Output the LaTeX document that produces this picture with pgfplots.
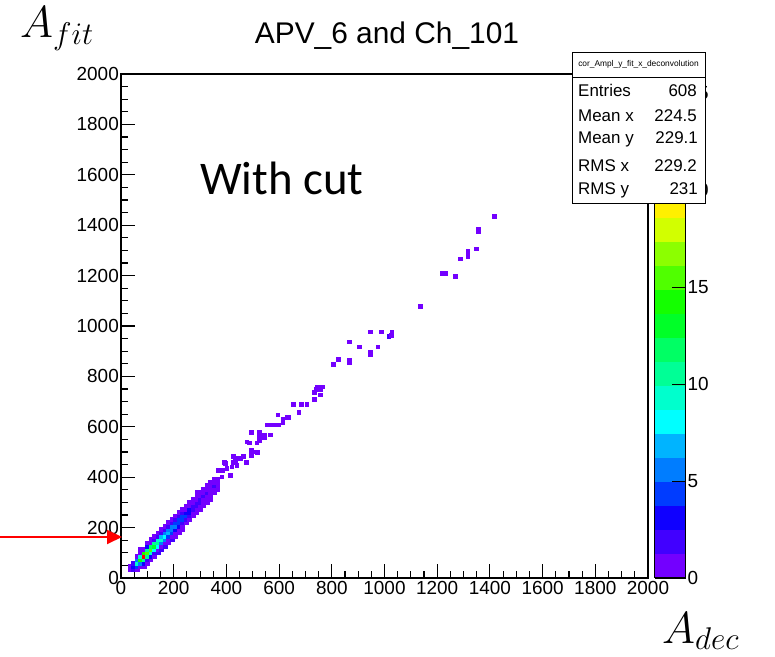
\RequirePackage{fix-cm}
\documentclass[border=0pt]{standalone}
\usepackage{fontspec}
\setmainfont{Liberation Sans}
\newfontfamily\calibri{Carlito}
\usepackage{pgfplots}
\pgfplotsset{compat=1.18}
\usepackage{pgfplotstable}
\usetikzlibrary{arrows.meta}
\pgfplotsset{/pgf/number format/assume math mode=true}

% x y count (bin contents)
\pgfplotstableread{
x y c
33 33 1
33 47 1
47 33 2
47 47 3
47 60 2
60 33 1
60 47 4
60 60 9
60 73 5
60 87 1
73 47 1
73 60 6
73 73 14
73 87 9
73 100 1
73 113 1
87 47 1
87 60 3
87 73 11
87 87 26
87 100 14
87 113 1
100 60 1
100 73 2
100 87 10
100 100 16
100 113 11
100 127 3
100 140 1
113 73 1
113 87 3
113 100 9
113 113 15
113 127 12
113 140 1
113 153 1
127 87 1
127 100 2
127 113 8
127 127 13
127 140 10
127 153 2
127 167 1
140 100 2
140 113 1
140 127 8
140 140 10
140 153 9
140 167 2
140 180 1
153 113 2
153 127 1
153 140 6
153 153 9
153 167 7
153 180 2
153 193 1
167 127 2
167 140 1
167 153 5
167 167 8
167 180 6
167 193 2
167 207 1
180 140 1
180 153 1
180 167 4
180 180 7
180 193 5
180 207 2
180 220 1
193 153 2
193 167 1
193 180 4
193 193 6
193 207 5
193 220 2
193 233 1
207 167 1
207 180 1
207 193 3
207 207 5
207 220 4
207 233 2
207 247 1
220 180 1
220 193 1
220 207 3
220 220 4
220 233 4
220 247 2
220 260 1
233 193 1
233 207 1
233 220 2
233 233 4
233 247 4
233 260 2
233 273 1
247 220 1
247 233 2
247 247 4
247 260 3
247 273 1
247 287 1
260 233 1
260 247 2
260 260 3
260 273 3
260 287 1
260 300 1
273 247 1
273 260 1
273 273 2
273 287 2
273 300 1
273 313 1
287 260 1
287 273 1
287 287 2
287 300 2
287 313 1
287 327 1
287 340 1
300 273 1
300 287 1
300 300 2
300 313 2
300 327 1
300 340 1
313 287 1
313 300 1
313 313 1
313 327 2
313 340 1
313 353 1
327 300 1
327 313 1
327 327 1
327 340 2
327 353 1
327 367 1
340 313 1
340 327 1
340 340 1
340 353 1
340 367 1
340 380 1
353 340 1
353 353 1
353 367 2
353 380 1
353 393 1
367 353 1
367 367 1
367 380 1
367 393 1
369 429 1
382 402 1
395 455 1
414 409 1
426 484 1
433 462 1
439 448 1
452 475 1
464 482 1
477 541 1
485 537 1
445 477 1
427 459 1
474 459 1
420 442 1
392 459 1
376 429 1
386 429 1
401 435 1
493 508 1
505 501 1
517 499 1
493 488 1
515 537 1
525 548 1
493 579 1
524 579 1
524 561 1
544 566 1
544 558 1
565 569 1
555 608 1
565 608 1
584 608 1
597 608 1
595 648 1
614 630 1
614 619 1
629 638 1
636 638 1
654 689 1
683 689 1
705 689 1
674 659 1
734 708 1
755 727 1
734 738 1
740 749 1
755 749 1
745 759 1
764 759 1
805 848 1
825 868 1
865 857 1
865 865 1
945 889 1
945 898 1
904 918 1
974 918 1
865 938 1
1016 958 2
1026 964 1
945 977 1
986 977 1
1027 977 1
1135 1078 1
1268 1197 1
1217 1208 1
1230 1208 1
1286 1267 1
1316 1278 1
1316 1297 1
1347 1307 1
1356 1374 1
1356 1384 1
1417 1436 1
}\bins

\begin{document}
\begin{tikzpicture}
\path[use as bounding box] (0bp,0bp) rectangle (775bp,657bp);
\begin{axis}[
  at={(121bp,79bp)}, anchor=south west,
  scale only axis, width=527bp, height=504bp,
  xmin=0, xmax=2000, ymin=0, ymax=2000,
  xtick={0,200,...,2000}, ytick={0,200,...,2000},
  minor tick num=3,
  tick align=inside, xtick pos=bottom, ytick pos=left,
  major tick length=14bp, minor tick length=7bp,
  axis line style={line width=1.3bp},
  every tick/.style={black, line width=1.1bp},
  tick label style={font=\fontsize{19}{22}\selectfont},
  yticklabel style={inner sep=2bp},
  xticklabel style={inner sep=3bp},
  /pgf/number format/set thousands separator={},
  scaled ticks=false,
  colormap={rootpal}{
    rgb255=(115,0,255) rgb255=(65,0,255) rgb255=(15,0,255) rgb255=(0,60,255)
    rgb255=(0,125,255) rgb255=(0,180,255) rgb255=(0,255,255) rgb255=(0,255,205)
    rgb255=(0,255,150) rgb255=(0,255,100) rgb255=(0,255,40) rgb255=(20,255,0)
    rgb255=(80,255,0) rgb255=(140,255,0) rgb255=(210,255,0) rgb255=(255,240,0)
    rgb255=(255,190,0) rgb255=(255,130,0) rgb255=(255,70,0) rgb255=(255,0,0)
    rgb255=(255,0,0)},
  colormap access=piecewise constant,
  point meta min=0, point meta max=26,
  colorbar,
  colorbar style={
    at={(parent axis.north east)}, anchor=north west, xshift=-2bp,
    scale only axis, width=31bp, height=504bp,
    ytick={0,5,10,15,20,25},
    ytick pos=right, yticklabel pos=right,
    tick align=inside, major tick length=14bp,
    every tick/.style={black, line width=1.1bp},
    axis line style={line width=1.3bp},
    yticklabel style={font=\fontsize{19}{22}\selectfont, inner sep=2bp},
  },
]
\addplot[scatter, only marks, mark=square*, mark size=1.9bp,
  point meta=explicit,
  scatter/use mapped color={draw=mapped color, fill=mapped color}]
  table[x=x, y=y, meta=c] {\bins};
\end{axis}

% title and labels
\node[anchor=base, font=\fontsize{30}{34}\selectfont] at (387bp,613bp) {APV\_6 and Ch\_101};
\node[anchor=base west, inner sep=0pt, font=\fontsize{45}{50}\selectfont] at (20bp,619bp) {$A_{fit}$};
\node[anchor=base west, inner sep=0pt, font=\fontsize{45}{50}\selectfont] at (662bp,14bp) {$A_{dec}$};
\node[anchor=base west, inner sep=0pt, font=\calibri\fontsize{47}{52}\selectfont] at (200bp,462bp) {With cut};

% arrow
\draw[red, line width=2bp, -{Triangle[length=15bp,width=14bp]}] (0bp,120bp) -- (122bp,120bp);

% stats box
\draw[fill=white, line width=1bp] (572.7bp,453.7bp) rectangle (705bp,604.7bp);
\draw[line width=1bp] (572.7bp,579.7bp) -- (705bp,579.7bp);
\node[anchor=base, inner sep=0pt, font=\fontsize{8.4}{10}\selectfont] at (638.5bp,590.3bp) {cor\_Ampl\_y\_fit\_x\_deconvolution};
\begin{scope}[every node/.style={inner sep=0pt, font=\fontsize{17}{20}\selectfont}]
\node[anchor=base west] at (578bp,560bp) {Entries};
\node[anchor=base east] at (697bp,560bp) {608};
\node[anchor=base west] at (578bp,535.3bp) {Mean x};
\node[anchor=base east] at (697bp,535.3bp) {224.5};
\node[anchor=base west] at (578bp,513bp) {Mean y};
\node[anchor=base east] at (698bp,513bp) {229.1};
\node[anchor=base west] at (578bp,485.3bp) {RMS x};
\node[anchor=base east] at (697bp,485.3bp) {229.2};
\node[anchor=base west] at (578bp,462bp) {RMS y};
\node[anchor=base east] at (698bp,462bp) {231};
\end{scope}
\end{tikzpicture}
\end{document}
